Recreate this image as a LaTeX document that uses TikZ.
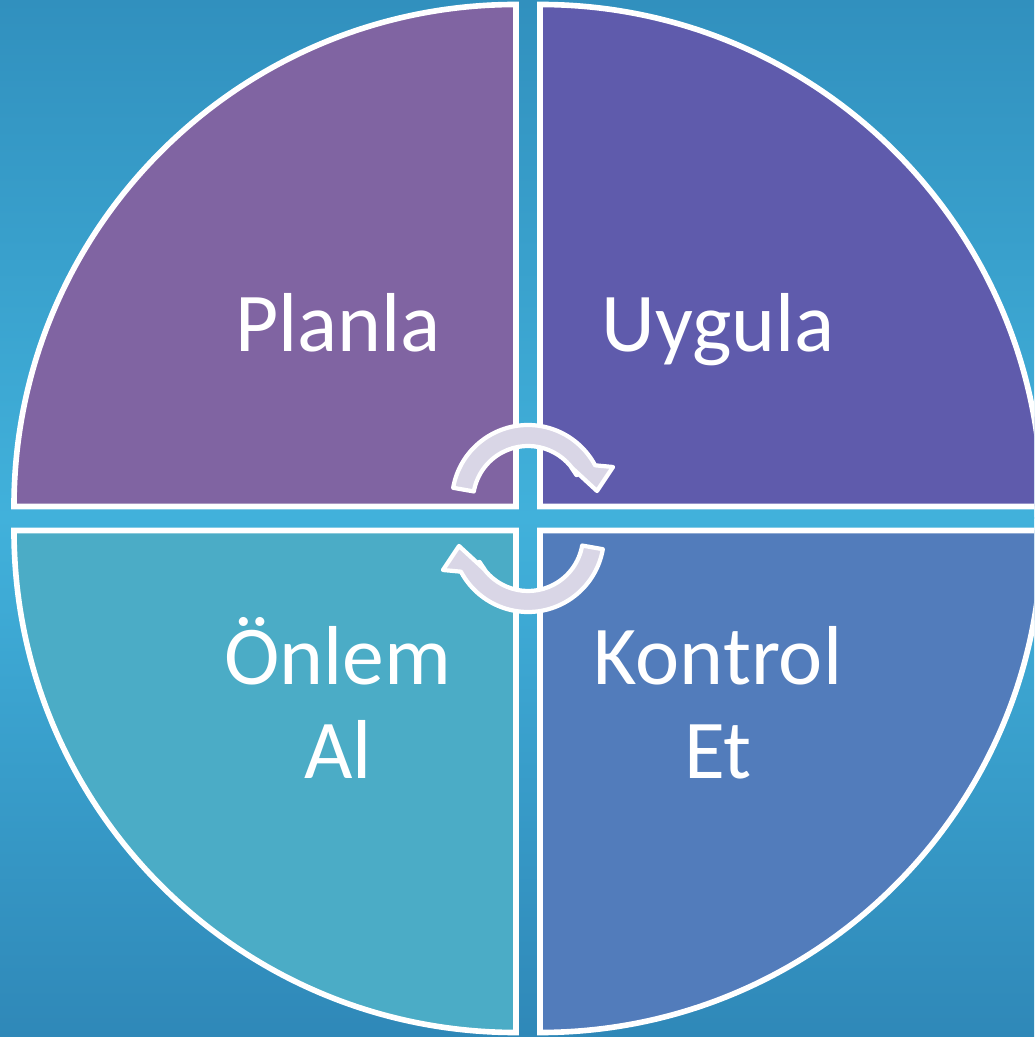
\documentclass[tikz,border=0pt]{standalone}
\usepackage{fontspec}
\setmainfont{Carlito}
\definecolor{bgtop}{HTML}{3190BE}
\definecolor{bgmid}{HTML}{41B1DB}
\definecolor{bgbot}{HTML}{2F88B8}
\definecolor{plancol}{HTML}{8064A2}
\definecolor{uygcol}{HTML}{5F5BAC}
\definecolor{onlcol}{HTML}{4BACC6}
\definecolor{kontcol}{HTML}{527CBB}
\definecolor{cyccol}{HTML}{D9D6E6}
\tikzset{
  quad/.style={draw=white,line width=1.6pt},
  cyc/.style={draw=white,fill=cyccol,line width=1.2pt,line join=round},
  lbl/.style={text=white,inner sep=0pt,anchor=base,font=\fontsize{23.8}{26.5}\selectfont}
}
\begin{document}
\begin{tikzpicture}
\useasboundingbox (-5.28,-5.185) rectangle (5.06,5.185);
\clip (-5.28,-5.185) rectangle (5.06,5.185);
% background
\shade[top color=bgtop,bottom color=bgmid] (-5.28,0) rectangle (5.06,5.185);
\shade[top color=bgmid,bottom color=bgbot] (-5.28,-5.185) rectangle (5.06,0.01);
% four quarters
\draw[quad,fill=plancol] (-0.12,0.12) -- ++(180:5.02) arc[start angle=180,end angle=90,radius=5.02] -- cycle;
\draw[quad,fill=uygcol] (0.12,0.12) -- ++(0:5.02) arc[start angle=0,end angle=90,radius=5.02] -- cycle;
\draw[quad,fill=onlcol] (-0.12,-0.12) -- ++(180:5.02) arc[start angle=180,end angle=270,radius=5.02] -- cycle;
\draw[quad,fill=kontcol] (0.12,-0.12) -- ++(0:5.02) arc[start angle=0,end angle=-90,radius=5.02] -- cycle;
% cycle arrows
\foreach \ang in {0,180}{
  \begin{scope}[rotate=\ang,shift={(0,0.175)}]
    \draw[cyc] (170:0.76) arc[start angle=170,end angle=28,radius=0.76]
      -- (0.85,0.34) -- (0.69,0.10) -- (0.43,0.34)
      -- (28:0.55) arc[start angle=28,end angle=170,radius=0.55] -- cycle;
  \end{scope}
}
% labels
\node[lbl] (planla) at (-1.9,1.665) {Planla};
\node[lbl] (uygula) at (1.9,1.665) {Uygula};
\node[lbl] (onlem) at (-1.9,-1.665) {Önlem};
\node[lbl] (al) at (-1.9,-2.595) {Al};
\node[lbl] (kontrol) at (1.9,-1.665) {Kontrol};
\node[lbl] (et) at (1.9,-2.595) {Et};
\end{tikzpicture}
\end{document}
